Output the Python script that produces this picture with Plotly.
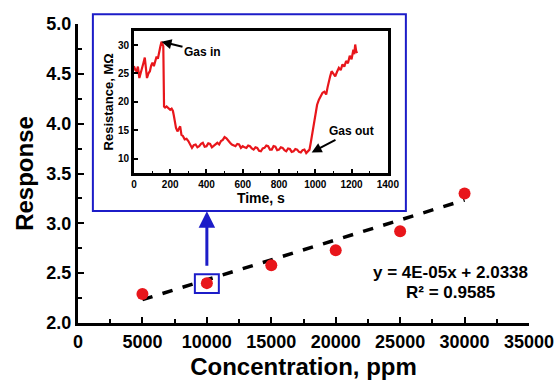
import plotly.graph_objects as go

# Main data
concentration = [5000, 10000, 15000, 20000, 25000, 30000]
response = [2.29, 2.40, 2.58, 2.73, 2.92, 3.30]
slope = 4e-05
intercept = 2.0338
fit_x = [5000, 30000]
x_ticks = [0, 5000, 10000, 15000, 20000, 25000, 30000, 35000]
y_ticks = [2.0, 2.5, 3.0, 3.5, 4.0, 4.5, 5.0]

# Inset data (resistance transient)
time_s = [0, 8, 15, 22, 30, 38, 45, 52, 60, 66, 72, 80, 88, 95, 102, 110, 118, 125, 132, 140, 146, 152, 158, 162,
          166, 172, 180, 190, 200, 208, 215, 220, 226, 232, 240, 248, 255, 262, 270, 280, 290, 300, 310, 320, 330,
          340, 350, 360, 370, 380, 390, 400, 410, 420, 430, 440, 450, 460, 470, 480, 490, 500, 510, 520, 530,
          540, 550, 560, 570, 580, 590, 600, 610, 620, 630, 640, 650, 660, 670, 680, 690, 700, 710, 720, 730,
          740, 750, 760, 770, 780, 790, 800, 810, 820, 830, 840, 850, 860, 870, 880, 890, 900, 910, 920, 930,
          940, 950, 960, 968, 975, 982, 990, 1000, 1010, 1020, 1030, 1040, 1050, 1060, 1068, 1075, 1082, 1090,
          1100, 1110, 1120, 1130, 1140, 1150, 1160, 1170, 1180, 1190, 1200, 1205, 1210, 1215, 1220, 1225, 1230]
resistance = [26.3, 25.6, 25.4, 26.2, 24.2, 25.0, 26.0, 26.8, 27.8, 26.0, 24.2, 25.0, 25.4, 26.4, 26.9, 26.3, 27.4,
              28.0, 27.6, 29.2, 29.8, 30.6, 30.2, 29.8, 19.2, 19.0, 19.2, 18.8, 18.6, 18.8, 18.4, 17.6, 16.3,
              15.4, 14.8, 15.2, 15.7, 14.2, 14.0, 13.4, 13.5, 13.1, 12.6, 11.9, 12.4, 12.5, 12.0, 12.2, 12.6,
              12.8, 12.1, 12.2, 12.7, 12.6, 12.0, 12.3, 12.6, 12.8, 12.5, 13.1, 13.3, 13.8, 13.6, 13.1, 12.8,
              12.5, 12.4, 12.2, 12.6, 12.5, 11.9, 12.2, 12.0, 11.9, 12.3, 12.2, 11.8, 11.6, 12.0, 11.9, 11.4,
              11.3, 11.8, 11.9, 12.3, 12.2, 11.6, 11.6, 12.2, 12.1, 11.5, 11.6, 12.0, 11.9, 11.5, 11.3, 11.8,
              11.7, 11.2, 11.3, 11.7, 11.6, 11.2, 11.1, 11.5, 11.6, 11.0, 11.3, 11.6, 12.8, 14.2, 15.7, 18.1,
              19.5, 20.4, 21.0, 21.6, 21.8, 21.3, 22.6, 23.9, 24.5, 25.4, 25.0, 24.5, 25.3, 26.0, 25.6, 26.6,
              26.2, 27.2, 26.8, 28.1, 27.5, 28.6, 29.2, 28.4, 30.1, 29.0, 28.6]
inset_x_ticks = [0, 200, 400, 600, 800, 1000, 1200, 1400]
inset_y_ticks = [10, 15, 20, 25, 30]

red = "#e8161b"
blue = "#1c1cc8"
font_family = "Liberation Sans, Arial, sans-serif"

fig = go.Figure()

fit_y = [slope * x + intercept for x in fit_x]
fig.add_trace(go.Scatter(x=fit_x, y=fit_y, mode="lines",
                         line=dict(color="black", width=3.5, dash="dash"),
                         showlegend=False, hoverinfo="skip"))
fig.add_trace(go.Scatter(x=concentration, y=response, mode="markers",
                         marker=dict(color=red, size=12),
                         showlegend=False))

fig.add_trace(go.Scatter(x=time_s, y=resistance, mode="lines",
                         line=dict(color=red, width=2.2),
                         xaxis="x2", yaxis="y2", showlegend=False))

tickfont_main = dict(family=font_family, size=18, color="black", weight="bold")

fig.update_layout(
    width=556, height=383,
    margin=dict(l=78, r=27, t=24, b=60),
    paper_bgcolor="white", plot_bgcolor="white",
    font=dict(family=font_family, color="black"),
    xaxis=dict(range=[0, 35000], tickvals=x_ticks, ticktext=[str(v) for v in x_ticks], automargin=False,
               showline=True, linewidth=3, linecolor="black", showgrid=False, zeroline=False,
               ticks="inside", ticklen=6, tickwidth=2, tickcolor="black",
               minor=dict(dtick=2500, ticks="inside", ticklen=4, tickwidth=2, tickcolor="black"),
               tickfont=tickfont_main,
               title=dict(text="Concentration, ppm", standoff=8,
                          font=dict(family=font_family, size=24, color="black", weight="bold"))),
    yaxis=dict(range=[2.0, 5.0], tickvals=y_ticks, ticktext=[f"{v:.1f}" for v in y_ticks], automargin=False,
               showline=True, linewidth=3, linecolor="black", showgrid=False, zeroline=False,
               ticks="inside", ticklen=6, tickwidth=2, tickcolor="black",
               minor=dict(dtick=0.25, ticks="inside", ticklen=4, tickwidth=2, tickcolor="black"),
               tickfont=tickfont_main,
               title=dict(text="Response", standoff=6,
                          font=dict(family=font_family, size=24, color="black", weight="bold"))),
    xaxis2=dict(domain=[0.124, 0.687], anchor="y2", range=[0, 1400], tickvals=inset_x_ticks,
                ticktext=[str(v) for v in inset_x_ticks], automargin=False,
                showline=True, mirror=True, linewidth=2.5, linecolor="black", showgrid=False, zeroline=False,
                ticks="inside", ticklen=4, tickwidth=1.5, tickcolor="black",
                minor=dict(dtick=100, ticks="inside", ticklen=2, tickwidth=1, tickcolor="black"),
                tickfont=dict(family=font_family, size=10, color="black", weight="bold"),
                title=dict(text="Time, s", standoff=2,
                           font=dict(family=font_family, size=14, color="black", weight="bold"))),
    yaxis2=dict(domain=[0.502, 0.977], anchor="x2", range=[7.5, 32.5], tickvals=inset_y_ticks,
                ticktext=[str(v) for v in inset_y_ticks], automargin=False,
                showline=True, mirror=True, linewidth=2.5, linecolor="black", showgrid=False, zeroline=False,
                ticks="inside", ticklen=4, tickwidth=1.5, tickcolor="black",
                tickfont=dict(family=font_family, size=10, color="black", weight="bold"),
                title=dict(text="Resistance, MΩ", standoff=2,
                           font=dict(family=font_family, size=13, color="black", weight="bold"))),
)

# Blue frame around inset
fig.add_shape(type="rect", xref="paper", yref="paper", x0=0.033, x1=0.727, y0=0.375, y1=1.033,
              line=dict(color=blue, width=2), fillcolor="rgba(0,0,0,0)", layer="above")
# Small blue square around the 10000 ppm point
fig.add_shape(type="rect", xref="x", yref="y",
              x0=concentration[1] - 930, x1=concentration[1] + 930,
              y0=response[1] - 0.10, y1=response[1] + 0.09,
              line=dict(color=blue, width=2), fillcolor="rgba(0,0,0,0)")
# Blue arrow
fig.add_annotation(x=concentration[1], y=3.12, ax=concentration[1], ay=2.56,
                   xref="x", yref="y", axref="x", ayref="y", text="",
                   showarrow=True, arrowhead=2, arrowsize=1.1, arrowwidth=3, arrowcolor=blue)

# Equation
fig.add_annotation(x=28900, y=2.51, xref="x", yref="y", text="y = 4E-05x + 2.0338",
                   showarrow=False, font=dict(family=font_family, size=17, color="black", weight="bold"))
fig.add_annotation(x=28900, y=2.31, xref="x", yref="y", text="R² = 0.9585",
                   showarrow=False, font=dict(family=font_family, size=17, color="black", weight="bold"))

# Gas in / Gas out
fig.add_annotation(x=152, y=30.6, xref="x2", yref="y2", text="Gas in", showarrow=True,
                   ax=41, ay=10, arrowhead=2, arrowsize=1, arrowwidth=2, arrowcolor="black",
                   font=dict(family=font_family, size=12, color="black", weight="bold"))
fig.add_annotation(x=980, y=11.1, xref="x2", yref="y2", text="Gas out", showarrow=True,
                   ax=40, ay=-21, arrowhead=2, arrowsize=1, arrowwidth=2, arrowcolor="black",
                   font=dict(family=font_family, size=12, color="black", weight="bold"))

fig.write_html("out.html", config={"displayModeBar": False},
               post_script="document.body.style.margin='0';")
